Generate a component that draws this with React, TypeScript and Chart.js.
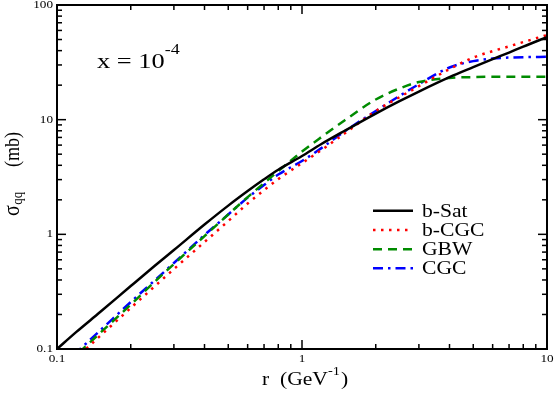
import React, { useEffect, useRef } from "react";
import { Chart, registerables } from "chart.js";

Chart.register(...registerables);

// ---- data ----
const rValues = [0.1, 0.12, 0.15, 0.2, 0.25, 0.3, 0.4, 0.5, 0.6, 0.7, 0.8, 1, 1.2, 1.5, 2, 2.5, 3, 4, 5, 6, 7, 8, 10];
const bSatValues = [0.1, 0.141, 0.21, 0.354, 0.529, 0.729, 1.217, 1.78, 2.385, 3.02, 3.66, 4.82, 6.13, 8.04, 11.3, 14.5, 17.6, 23.5, 28.7, 33.7, 38.5, 43.4, 52.5];
const bCGCValues = [0.0582, 0.0835, 0.13, 0.228, 0.351, 0.498, 0.857, 1.306, 1.856, 2.43, 3.03, 4.18, 5.43, 7.64, 11.9, 15.7, 19.6, 27.6, 34.8, 39.6, 43.6, 47.5, 54.7];
const gbwValues = [0.0618, 0.0887, 0.138, 0.244, 0.384, 0.551, 0.966, 1.49, 2.11, 2.8, 3.56, 5.27, 7.05, 9.93, 15.0, 18.7, 21.3, 23.1, 23.5, 23.65, 23.65, 23.65, 23.65];
const cgcValues = [0.0656, 0.0934, 0.145, 0.257, 0.395, 0.562, 0.986, 1.49, 2.09, 2.69, 3.32, 4.36, 5.65, 7.96, 11.9, 16.1, 20.4, 28.5, 32.4, 34.1, 34.8, 35.1, 35.3];
const seriesNames = ["b-Sat", "b-CGC", "GBW", "CGC"];
const seriesValues = [bSatValues, bCGCValues, gbwValues, cgcValues];

const xTickValues = [0.1, 1, 10];
const xTickLabels = ["0.1", "1", "10"];
const yTickValues = [0.1, 1, 10, 100];
const yTickLabels = ["0.1", "1", "10", "100"];

// ---- styles ----
const SERIF = '"Liberation Serif", "Times New Roman", serif';
const SX = 1.2; // horizontal stretch of the reference's text
const seriesStyles = [
  { color: "#000000", dash: [] as number[], width: 2.5 },
  { color: "#ff0000", dash: [2.5, 5.5], width: 2.5 },
  { color: "#008b00", dash: [9, 6], width: 2.5 },
  { color: "#0000ff", dash: [10, 5, 2.5, 5], width: 2.5 },
];

function drawText(
  ctx: CanvasRenderingContext2D,
  s: string,
  x: number,
  y: number,
  size: number,
  align: "left" | "center" | "right" = "left",
  baseline: CanvasTextBaseline = "alphabetic"
): number {
  ctx.save();
  ctx.font = `${size}px ${SERIF}`;
  ctx.textBaseline = baseline;
  ctx.textAlign = "left";
  const w = ctx.measureText(s).width * SX;
  let x0 = x;
  if (align === "center") x0 = x - w / 2;
  else if (align === "right") x0 = x - w;
  ctx.translate(x0, y);
  ctx.scale(SX, 1);
  ctx.fillText(s, 0, 0);
  ctx.restore();
  return w;
}

function minorValues(min: number, max: number): number[] {
  const out: number[] = [];
  for (let d = min; d < max * 0.999; d *= 10) {
    for (let k = 2; k <= 9; k++) out.push(d * k);
  }
  return out;
}

const decorPlugin = {
  id: "decor",
  afterDatasetsDraw(chart: any) {
    const { ctx, chartArea: a, scales } = chart;
    const xs = scales.x;
    const ys = scales.y;
    ctx.save();
    ctx.strokeStyle = "#000";
    ctx.fillStyle = "#000";
    ctx.setLineDash([]);
    const seg = (x1: number, y1: number, x2: number, y2: number) => {
      ctx.beginPath();
      ctx.moveTo(x1, y1);
      ctx.lineTo(x2, y2);
      ctx.stroke();
    };
    ctx.lineWidth = 1.5;
    // x ticks (bottom and top, inward)
    for (const v of xTickValues) {
      const px = xs.getPixelForValue(v);
      seg(px, a.bottom, px, a.bottom - 9);
      seg(px, a.top, px, a.top + 9);
    }
    for (const v of minorValues(0.1, 10)) {
      const px = xs.getPixelForValue(v);
      seg(px, a.bottom, px, a.bottom - 5);
      seg(px, a.top, px, a.top + 5);
    }
    // y ticks (left and right, inward)
    for (const v of yTickValues) {
      const py = ys.getPixelForValue(v);
      seg(a.left, py, a.left + 9, py);
      seg(a.right, py, a.right - 9, py);
    }
    for (const v of minorValues(0.1, 100)) {
      const py = ys.getPixelForValue(v);
      seg(a.left, py, a.left + 5, py);
      seg(a.right, py, a.right - 5, py);
    }
    // frame
    ctx.lineWidth = 2;
    ctx.strokeRect(a.left, a.top, a.right - a.left, a.bottom - a.top);

    // tick labels
    xTickValues.forEach((v, i) => {
      drawText(ctx, xTickLabels[i], xs.getPixelForValue(v), a.bottom + 10, 11, "center", "middle");
    });
    yTickValues.forEach((v, i) => {
      drawText(ctx, yTickLabels[i], a.left - 4, ys.getPixelForValue(v), 11, "right", "middle");
    });

    // x axis title: r  (GeV^-1)
    let x = 262;
    x += drawText(ctx, "r  (GeV", x, 385, 18);
    x += drawText(ctx, "-1", x, 375, 12);
    drawText(ctx, ")", x + 1, 385, 18);

    // y axis title: σ_qq (mb), rotated
    ctx.save();
    ctx.translate(19, 216);
    ctx.rotate(-Math.PI / 2);
    ctx.scale(1, SX);
    ctx.textBaseline = "alphabetic";
    ctx.font = `20px ${SERIF}`;
    ctx.fillText("σ", 0, 0);
    let t = ctx.measureText("σ").width;
    ctx.font = `13px ${SERIF}`;
    ctx.fillText("qq", t + 0.5, 2.5);
    ctx.font = `18px ${SERIF}`;
    ctx.fillText("(mb)", 49, 0);
    ctx.restore();

    // annotation: x = 10^-4
    let ax = 97;
    ax += drawText(ctx, "x = 10", ax, 68, 22);
    drawText(ctx, "-4", ax, 54, 15);

    // legend
    const lx1 = 373;
    const lx2 = 413;
    const rows = [210.7, 230, 249.3, 268.3];
    seriesNames.forEach((name, i) => {
      const st = seriesStyles[i];
      ctx.strokeStyle = st.color;
      ctx.lineWidth = st.width;
      ctx.setLineDash(st.dash);
      ctx.beginPath();
      ctx.moveTo(lx1, rows[i]);
      ctx.lineTo(lx2, rows[i]);
      ctx.stroke();
      ctx.setLineDash([]);
      ctx.fillStyle = "#000";
      drawText(ctx, name, 422, rows[i] + 6, 18);
    });
    ctx.restore();
  },
};

export default function App() {
  const canvasRef = useRef<HTMLCanvasElement | null>(null);

  useEffect(() => {
    document.body.style.margin = "0";
    const canvas = canvasRef.current;
    if (!canvas) return;
    const datasets = seriesNames.map((name, i) => ({
      label: name,
      data: rValues.map((r, j) => ({ x: r, y: seriesValues[i][j] })),
      borderColor: seriesStyles[i].color,
      backgroundColor: seriesStyles[i].color,
      borderWidth: seriesStyles[i].width,
      borderDash: seriesStyles[i].dash,
      pointRadius: 0,
      fill: false,
      cubicInterpolationMode: "monotone" as const,
      clip: 0,
    }));
    const chart = new Chart(canvas, {
      type: "line",
      data: { datasets },
      options: {
        animation: false,
        responsive: false,
        devicePixelRatio: 1,
        layout: { padding: { left: 57, right: 9, top: 5, bottom: 47 } },
        plugins: {
          legend: { display: false },
          title: { display: false },
          tooltip: { enabled: false },
        },
        scales: {
          x: { type: "logarithmic", min: 0.1, max: 10, display: false },
          y: { type: "logarithmic", min: 0.1, max: 100, display: false },
        },
      },
      plugins: [decorPlugin],
    });
    return () => chart.destroy();
  }, []);

  return (
    <div style={{ position: "absolute", left: 0, top: 0, width: 556, height: 396, background: "#fff" }}>
      <canvas ref={canvasRef} width={556} height={396} />
    </div>
  );
}
